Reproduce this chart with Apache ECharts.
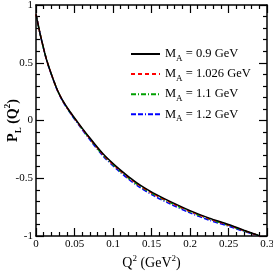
<!DOCTYPE html>
<html><head><meta charset="utf-8">
<script src="https://cdn.jsdelivr.net/npm/echarts@6/dist/echarts.min.js"></script>
<style>html,body{margin:0;padding:0;background:#fff}#c{width:273px;height:273px}</style>
</head><body><div id="c"></div>
<script>
const q2 = [0, 0.005, 0.01, 0.014, 0.02, 0.028, 0.035, 0.044, 0.053, 0.066, 0.087, 0.109, 0.131, 0.152, 0.174, 0.2, 0.225, 0.25, 0.27, 0.291];
const pl09   = [0.92, 0.76, 0.62, 0.52, 0.40, 0.26, 0.17, 0.078, -0.004, -0.118, -0.288, -0.425, -0.54, -0.626, -0.70, -0.78, -0.845, -0.90, -0.95, -1.0];
const pl1026 = [0.92, 0.76, 0.62, 0.52, 0.40, 0.26, 0.168, 0.075, -0.008, -0.123, -0.294, -0.432, -0.547, -0.633, -0.707, -0.786, -0.85, -0.905, -0.953, -1.0];
const pl11   = [0.92, 0.76, 0.62, 0.52, 0.40, 0.259, 0.167, 0.073, -0.010, -0.126, -0.298, -0.436, -0.551, -0.637, -0.711, -0.79, -0.854, -0.908, -0.955, -1.0];
const pl12   = [0.92, 0.76, 0.618, 0.518, 0.397, 0.256, 0.163, 0.068, -0.016, -0.133, -0.307, -0.446, -0.562, -0.648, -0.722, -0.8, -0.863, -0.915, -0.96, -1.0];
const names = ['0.9', '1.026', '1.1', '1.2'];
const xTicks = {min: 0, max: 0.3, interval: 0.05};
const yTicks = {min: -1, max: 1, interval: 0.5};

const F = 'Liberation Serif';
const chart = echarts.init(document.getElementById('c'));
function pairs(v){ return q2.map((x,i)=>[x, v[i]]); }
const seriesDefs = [
  {v: pl09, color: '#000000', type: 'solid'},
  {v: pl1026, color: '#ff0000', type: [4,3]},
  {v: pl11, color: '#00a000', type: [5,2,1,2]},
  {v: pl12, color: '#0000ff', type: [5,2,5,2,1,2]}
];
const axCommon = {
  axisLine: {show: true, onZero: false, lineStyle: {color: '#000', width: 1.5}},
  axisTick: {show: true, inside: true, length: 8, lineStyle: {color: '#000', width: 1.2}},
  minorTick: {show: true, splitNumber: 5, length: 4, lineStyle: {color: '#000', width: 1.2}},
  splitLine: {show: false}, minorSplitLine: {show: false}
};
chart.setOption({
  animation: false,
  grid: {left: 36, right: 6, top: 5, bottom: 37, containLabel: false, outerBoundsMode: 'none'},
  legend: {
    orient: 'vertical', left: 130, top: 47.5, padding: 0, itemWidth: 29, itemHeight: 14, itemGap: 4.6,
    data: names.map(n=>'MA = '+n+' GeV'),
    itemStyle: {color: 'rgba(0,0,0,0)', borderColor: 'rgba(0,0,0,0)', borderWidth: 0, opacity: 0},
    formatter: function(name){ const n = name.replace('MA = ',''); return '{m|M}{s|A}{m| = '+n+'}'; },
    textStyle: {fontFamily: F, fontSize: 12.5, color: '#000',
      rich: {m: {fontFamily: F, fontSize: 12.5, lineHeight: 18, color: '#000'},
             s: {fontFamily: F, fontSize: 9, lineHeight: 8, verticalAlign: 'bottom', color: '#000'}}}
  },
  xAxis: [
    Object.assign({type: 'value', position: 'bottom', min: xTicks.min, max: xTicks.max, interval: xTicks.interval,
      axisLabel: {fontFamily: F, fontSize: 11, color: '#000', margin: 3},
      name: '{n|Q}{p|2}{n| (GeV}{p|2}{n|)}', nameLocation: 'middle', nameGap: 18, nameMoveOverlap: false,
      nameTextStyle: {fontFamily: F, fontSize: 14, color: '#000',
        rich: {n: {fontFamily: F, fontSize: 14, lineHeight: 18, color: '#000'},
               p: {fontFamily: F, fontSize: 9, lineHeight: 8, verticalAlign: 'top', color: '#000'}}}
    }, axCommon),
    Object.assign({type: 'value', position: 'top', min: xTicks.min, max: xTicks.max, interval: xTicks.interval,
      axisLabel: {show: false}}, axCommon)
  ],
  yAxis: [
    Object.assign({type: 'value', position: 'left', min: yTicks.min, max: yTicks.max, interval: yTicks.interval,
      axisLabel: {fontFamily: F, fontSize: 11, color: '#000', margin: 3},
      name: '{b|P}{s|L}{b| (Q}{p|2}{b|)}', nameLocation: 'middle', nameGap: 13, nameMoveOverlap: false,
      nameTextStyle: {fontFamily: F, fontSize: 14, fontWeight: 'bold', color: '#000',
        rich: {b: {fontFamily: F, fontSize: 14, fontWeight: 'bold', lineHeight: 20, color: '#000'},
               s: {fontFamily: F, fontSize: 9, fontWeight: 'bold', lineHeight: 8, verticalAlign: 'bottom', color: '#000'},
               p: {fontFamily: F, fontSize: 9, fontWeight: 'bold', lineHeight: 8, verticalAlign: 'top', color: '#000'}}}
    }, axCommon),
    Object.assign({type: 'value', position: 'right', min: yTicks.min, max: yTicks.max, interval: yTicks.interval,
      axisLabel: {show: false}}, axCommon)
  ],
  series: seriesDefs.map((d,i)=>({
    type: 'line', name: 'MA = '+names[i]+' GeV', data: pairs(d.v), smooth: 0.3,
    symbol: 'none', showSymbol: false, color: d.color, z: 10-i,
    lineStyle: {color: d.color, width: 1.5, type: d.type}
  }))
});
</script></body></html>
